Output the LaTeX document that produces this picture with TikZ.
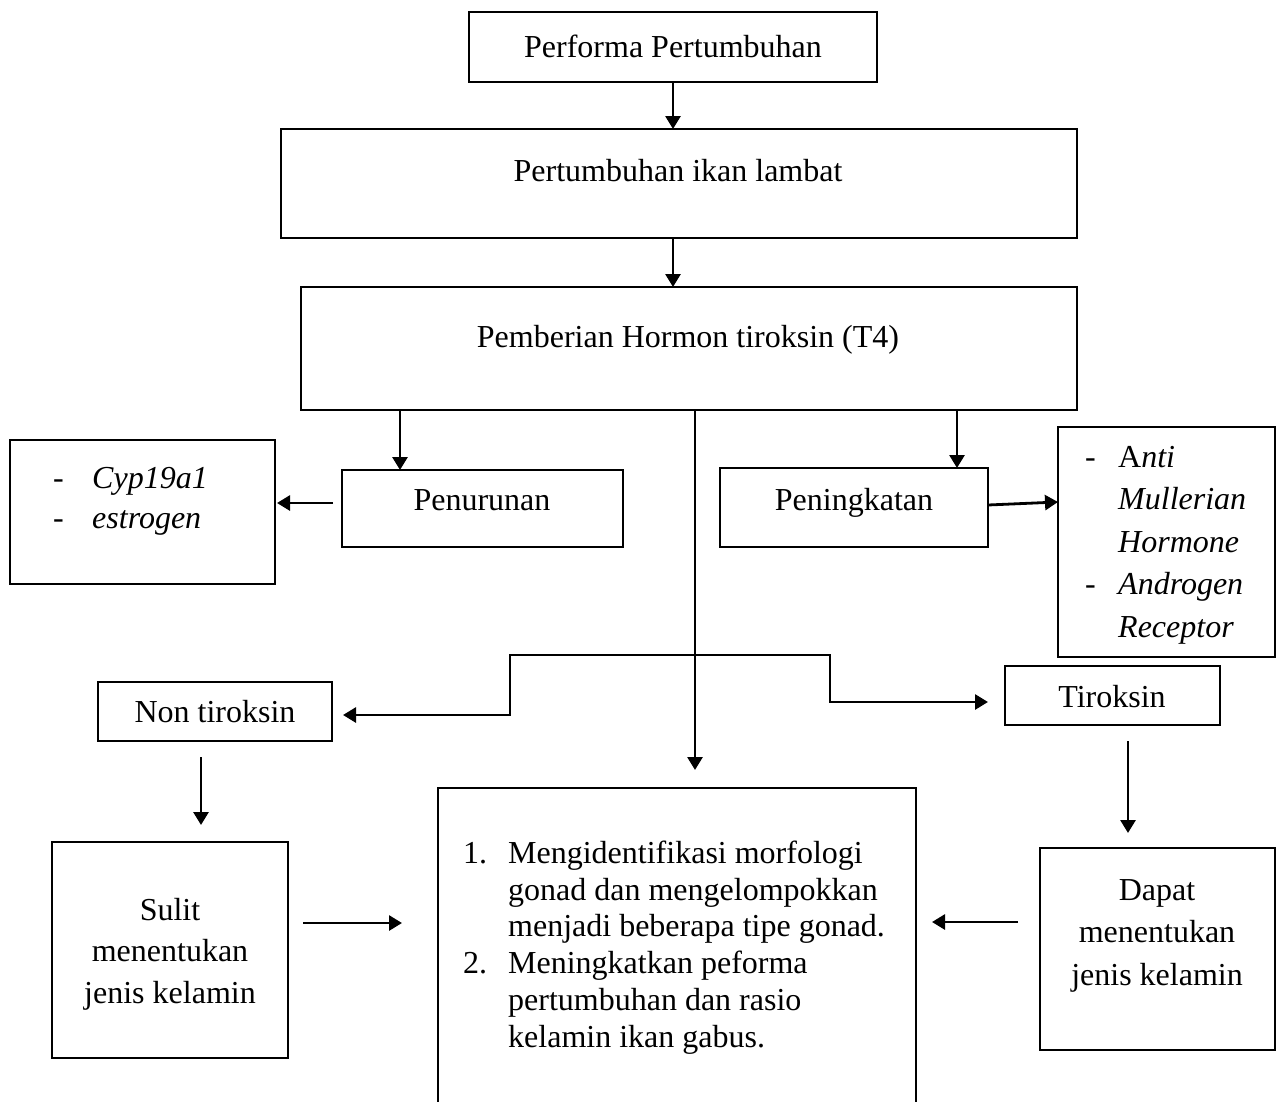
\documentclass[tikz,border=0pt]{standalone}
\usepackage{fontspec}
\setmainfont{Liberation Serif}
\usetikzlibrary{arrows.meta}
\begin{document}
\begin{tikzpicture}[x=1pt,y=-1pt,
  box/.style={draw, line width=2.8pt, inner sep=0pt, outer sep=0pt, anchor=north west},
  txt/.style={inner sep=0pt, font=\fontsize{32}{37}\selectfont},
  arr/.style={line width=2.8pt, -{Triangle[length=13pt,width=15pt]}},
  ln/.style={line width=2.8pt}]
\useasboundingbox (0,0) rectangle (1283,1101);
\clip (0,0) rectangle (1283,1101);
% boxes
\node[box, minimum width=408, minimum height=70] (b1) at (469,12) {};
\node[box, minimum width=796, minimum height=109] (b2) at (281,129) {};
\node[box, minimum width=776, minimum height=123] (b3) at (301,287) {};
\node[box, minimum width=281, minimum height=77] (pen) at (342,470) {};
\node[box, minimum width=265, minimum height=144] (lbox) at (10,440) {};
\node[box, minimum width=268, minimum height=79] (pening) at (720,468) {};
\node[box, minimum width=217, minimum height=230] (rbox) at (1058,427) {};
\node[box, minimum width=234, minimum height=59] (non) at (98,682) {};
\node[box, minimum width=215, minimum height=59] (tir) at (1005,666) {};
\node[box, minimum width=236, minimum height=216] (sulit) at (52,842) {};
\node[box, minimum width=235, minimum height=202] (dapat) at (1040,848) {};
\node[box, minimum width=478, minimum height=330] (bot) at (438,788) {};
% texts
\node[txt, anchor=base] (t1) at (673,57) {Performa Pertumbuhan};
\node[txt, anchor=base] (t2) at (678,181) {Pertumbuhan ikan lambat};
\node[txt, anchor=base] (t3) at (688,347) {Pemberian Hormon tiroksin (T4)};
\node[txt, anchor=base] (tpen) at (482,510) {Penurunan};
\node[txt, anchor=base] (tpening) at (854,510) {Peningkatan};
\node[txt, anchor=base] (tnon) at (215,722) {Non tiroksin};
\node[txt, anchor=base] (ttir) at (1112,707) {Tiroksin};
\node[txt, anchor=north, align=center, font=\fontsize{32}{41.5}\selectfont] (tsulit) at (170,894)
  {\rule{0pt}{26pt}Sulit\\menentukan\\jenis kelamin};
\node[txt, anchor=north, align=center, font=\fontsize{32}{42.5}\selectfont] (tdapat) at (1157,874)
  {\rule{0pt}{26pt}Dapat\\menentukan\\jenis kelamin};
\node[txt, anchor=north west, align=left, font=\fontsize{32}{40}\selectfont] (tl) at (53,462)
  {\rule{0pt}{26pt}\makebox[39pt][l]{-}\textit{Cyp19a1}\\\makebox[39pt][l]{-}\textit{estrogen}};
\node[txt, anchor=north west, align=left, font=\fontsize{32}{42.5}\selectfont] (tr) at (1085,441)
  {\rule{0pt}{26pt}\makebox[33pt][l]{-}A\textit{nti}\\\hspace*{33pt}\textit{Mullerian}\\\hspace*{33pt}\textit{Hormone}\\\makebox[33pt][l]{-}\textit{Androgen}\\\hspace*{33pt}\textit{Receptor}};
\node[txt, anchor=north west, align=left, font=\fontsize{32}{36.8}\selectfont] (tb) at (463,837)
  {\rule{0pt}{26pt}\makebox[45pt][l]{1.}Mengidentifikasi morfologi\\\hspace*{45pt}gonad dan mengelompokkan\\\hspace*{45pt}menjadi beberapa tipe gonad.\\\makebox[45pt][l]{2.}Meningkatkan peforma\\\hspace*{45pt}pertumbuhan dan rasio\\\hspace*{45pt}kelamin ikan gabus.};
% connectors
\draw[arr] (b1.south) -- (b1.south |- b2.north);
\draw[arr] (b2.south -| b1.south) -- (b1.south |- b3.north);
\draw[arr] (b3.south -| 400,0) -- (pen.north -| 400,0);
\draw[arr] (b3.south -| 957,0) -- (pening.north -| 957,0);
\draw[arr, shorten >=18pt] (b3.south -| 695,0) -- (bot.north -| 695,0);
\draw[arr, shorten <=9pt, shorten >=2pt] (pen.west |- 0,503) -- (lbox.east |- 0,503);
\draw[arr] (pening.east |- 0,505) -- (rbox.west |- 0,502);
\coordinate (j) at (695,655);
\draw[arr, shorten >=11pt] (j) -- (510,655) -- (510,715) -- (non.east |- 0,715);
\draw[arr, shorten >=17pt] (j) -- (830,655) -- (830,702) -- (tir.west |- 0,702);
\draw[arr, shorten <=16pt, shorten >=17pt] (non.south -| 201,0) -- (sulit.north -| 201,0);
\draw[arr, shorten <=16pt, shorten >=15pt] (tir.south -| 1128,0) -- (dapat.north -| 1128,0);
\draw[arr, shorten <=15pt, shorten >=36pt] (sulit.east |- 0,923) -- (bot.west |- 0,923);
\draw[arr, shorten <=22pt, shorten >=16pt] (dapat.west |- 0,922) -- (bot.east |- 0,922);
\end{tikzpicture}
\end{document}
